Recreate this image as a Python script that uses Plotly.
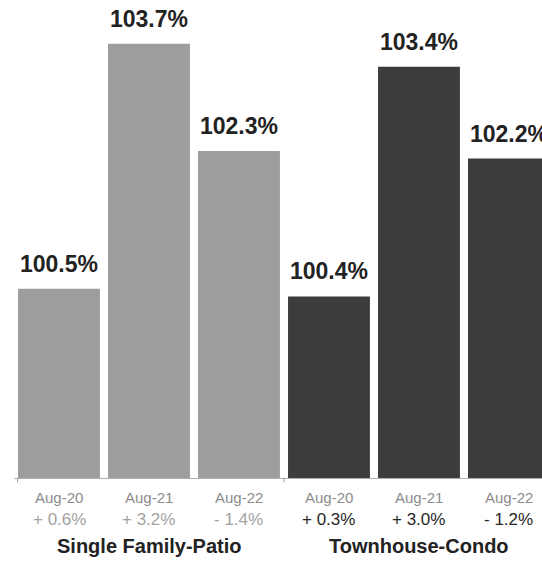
import plotly.graph_objects as go

# Sale-to-list price ratio by property type, with year-over-year change
groups = ["Single Family-Patio", "Townhouse-Condo"]
periods = ["Aug-20", "Aug-21", "Aug-22"]
single_family = [100.5, 103.7, 102.3]
townhouse = [100.4, 103.4, 102.2]
sf_change = ["+ 0.6%", "+ 3.2%", "- 1.4%"]
th_change = ["+ 0.3%", "+ 3.0%", "- 1.2%"]

FONT = "Liberation Sans, Arial, sans-serif"
SF_COLOR = "#9d9d9d"
TH_COLOR = "#3e3b3c"

values = single_family + townhouse
xs = list(range(len(values)))
colors = [SF_COLOR] * len(single_family) + [TH_COLOR] * len(townhouse)

fig = go.Figure(
    go.Bar(
        x=xs,
        y=values,
        marker=dict(color=colors, line=dict(width=0)),
        hoverinfo="skip",
    )
)

annotations = []
# value labels above each bar
for x, v in zip(xs, values):
    annotations.append(dict(
        x=x, y=v, xref="x", yref="y", text=f"<b>{v:.1f}%</b>",
        showarrow=False, yanchor="bottom", yshift=10,
        font=dict(family=FONT, size=23, color="#222222"),
    ))

# period labels and change rows beneath the axis
changes = sf_change + th_change
for i, x in enumerate(xs):
    annotations.append(dict(
        x=x, y=-0.040, xref="x", yref="paper", text=periods[i % 3],
        showarrow=False, yanchor="middle",
        font=dict(family=FONT, size=15, color="#8c8c8c"),
    ))
    in_sf = i < 3
    annotations.append(dict(
        x=x, y=-0.086, xref="x", yref="paper", text=changes[i],
        showarrow=False, yanchor="middle",
        font=dict(family=FONT, size=17, color="#a3a3a3" if in_sf else "#262626"),
    ))

# group titles under the middle bar of each group
for g, gx in zip(groups, [1, 4]):
    annotations.append(dict(
        x=gx, y=-0.143, xref="x", yref="paper", text=f"<b>{g}</b>",
        showarrow=False, yanchor="middle",
        font=dict(family=FONT, size=20, color="#222222"),
    ))

# small group-separator ticks on the baseline
shapes = []
for tx in [-0.46, 2.5]:
    shapes.append(dict(
        type="line", xref="x", yref="paper", x0=tx, x1=tx, y0=0, y1=-0.009,
        line=dict(color="#9a9a9a", width=1),
    ))

fig.update_layout(
    width=542,
    height=563,
    margin=dict(l=14, r=0, t=0, b=85),
    paper_bgcolor="white",
    plot_bgcolor="white",
    bargap=0.09,
    showlegend=False,
    annotations=annotations,
    shapes=shapes,
    xaxis=dict(
        range=[-0.5, 5.367],
        showticklabels=False,
        showgrid=False,
        zeroline=False,
        showline=True,
        linecolor="#b0b0b0",
        linewidth=1,
        ticks="",
        fixedrange=True,
    ),
    yaxis=dict(
        range=[98.03, 104.27],
        visible=False,
        showgrid=False,
        fixedrange=True,
    ),
)

fig.write_html("out.html")
